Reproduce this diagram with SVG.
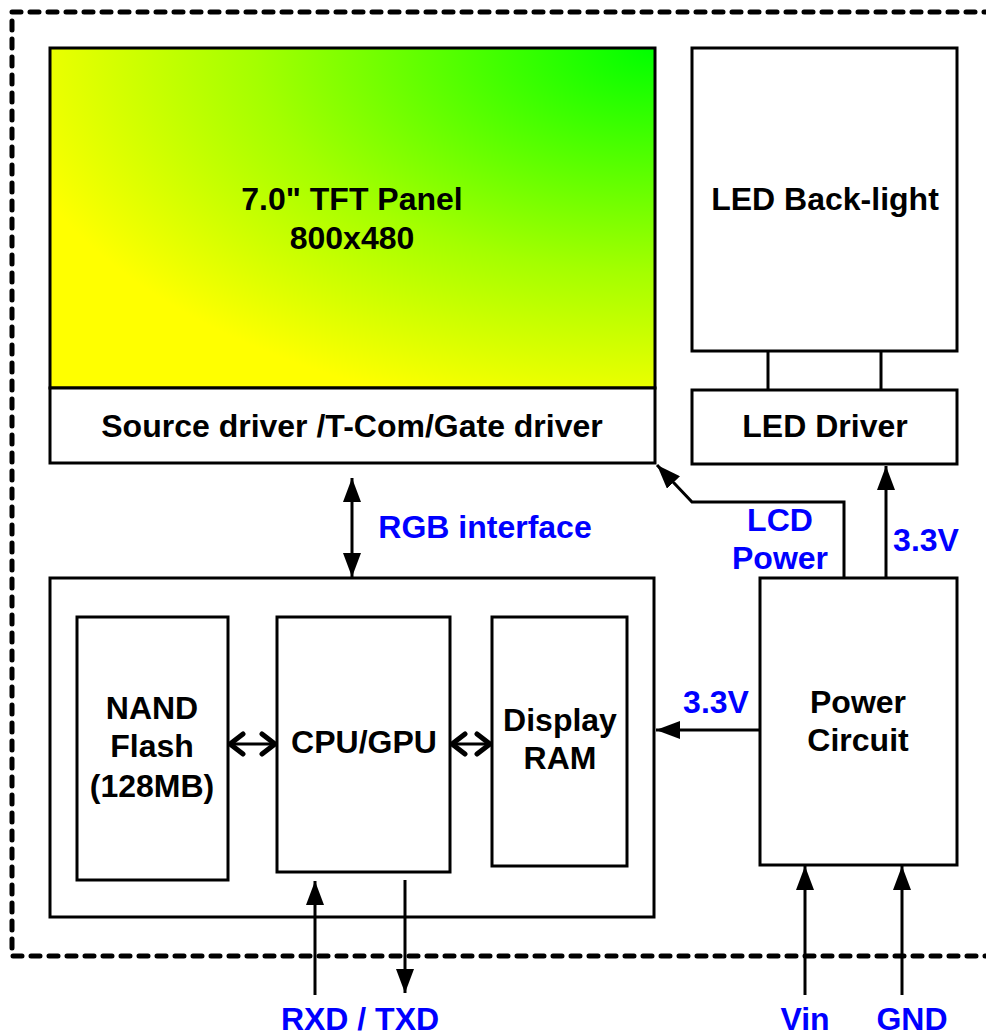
<svg xmlns="http://www.w3.org/2000/svg" width="986" height="1035" viewBox="0 0 986 1035">
<defs>
<radialGradient id="tft" cx="1" cy="0" r="1.1" fx="1" fy="0">
<stop offset="0" stop-color="#00ff00"/>
<stop offset="0.6" stop-color="#a4ff00"/>
<stop offset="1" stop-color="#ffff00"/>
</radialGradient>
<marker id="ah" viewBox="0 0 24 18" refX="24" refY="9" markerWidth="24" markerHeight="18" markerUnits="userSpaceOnUse" orient="auto-start-reverse">
<path d="M0,0 L24,9 L0,18 Z" fill="#000"/>
</marker>
<marker id="oh" viewBox="0 0 20 26" refX="17" refY="13" markerWidth="20" markerHeight="26" markerUnits="userSpaceOnUse" orient="auto-start-reverse">
<path d="M3,3 L16,13 L3,23" fill="none" stroke="#000" stroke-width="5" stroke-linecap="round" stroke-linejoin="round"/>
</marker>
<style>
.box{fill:#fff;stroke:#000;stroke-width:3}
.ln{fill:none;stroke:#000;stroke-width:3}
.t{font-family:"Liberation Sans",Arial,sans-serif;font-weight:bold;font-size:32px;fill:#000;text-anchor:middle}
.b{font-family:"Liberation Sans",Arial,sans-serif;font-weight:bold;font-size:32px;fill:#0000ff;text-anchor:middle}
</style>
</defs>
<rect x="12" y="12" width="1000" height="944" fill="none" stroke="#000" stroke-width="5" stroke-dasharray="9 9" stroke-linecap="round"/>
<g id="tft-panel">
<rect x="50" y="48" width="605" height="340" fill="url(#tft)" stroke="#000" stroke-width="3"/>
<text class="t" x="352" y="210">7.0" TFT Panel</text>
<text class="t" x="352" y="249">800x480</text>
</g>
<g id="source-driver">
<rect class="box" x="50" y="388" width="605" height="75"/>
<text class="t" x="352" y="437">Source driver /T-Com/Gate driver</text>
</g>
<g id="led-backlight">
<rect class="box" x="692" y="48" width="265" height="303"/>
<text class="t" x="825" y="210">LED Back-light</text>
</g>
<g id="led-driver">
<rect class="box" x="692" y="390" width="265" height="74"/>
<text class="t" x="825" y="437">LED Driver</text>
</g>
<g id="main-board">
<rect class="box" x="50" y="578" width="604" height="339"/>
</g>
<g id="nand">
<rect class="box" x="77" y="617" width="151" height="263"/>
<text class="t" x="152" y="719">NAND</text>
<text class="t" x="152" y="757">Flash</text>
<text class="t" x="152" y="797">(128MB)</text>
</g>
<g id="cpu">
<rect class="box" x="277" y="617" width="173" height="255"/>
<text class="t" x="364" y="753">CPU/GPU</text>
</g>
<g id="ram">
<rect class="box" x="492" y="617" width="135" height="249"/>
<text class="t" x="560" y="731">Display</text>
<text class="t" x="560" y="769">RAM</text>
</g>
<g id="power">
<rect class="box" x="760" y="578" width="197" height="287"/>
<text class="t" x="858" y="713">Power</text>
<text class="t" x="858" y="751">Circuit</text>
</g>
<g id="connectors">
<line class="ln" x1="768" y1="351" x2="768" y2="390"/>
<line class="ln" x1="881" y1="351" x2="881" y2="390"/>
<line class="ln" x1="352" y1="478" x2="352" y2="577" marker-start="url(#ah)" marker-end="url(#ah)"/>
<polyline class="ln" points="844,578 844,502 692,502 657,465" marker-end="url(#ah)"/>
<line class="ln" x1="886" y1="578" x2="886" y2="466" marker-end="url(#ah)"/>
<line class="ln" x1="760" y1="730" x2="656" y2="730" marker-end="url(#ah)"/>
<line class="ln" x1="229" y1="744" x2="276" y2="744" marker-start="url(#oh)" marker-end="url(#oh)"/>
<line class="ln" x1="451" y1="744" x2="491" y2="744" marker-start="url(#oh)" marker-end="url(#oh)"/>
<line class="ln" x1="315" y1="995" x2="315" y2="881" marker-end="url(#ah)"/>
<line class="ln" x1="405" y1="880" x2="405" y2="993" marker-end="url(#ah)"/>
<line class="ln" x1="805" y1="995" x2="805" y2="866" marker-end="url(#ah)"/>
<line class="ln" x1="902" y1="995" x2="902" y2="866" marker-end="url(#ah)"/>
<text class="b" x="485" y="538">RGB interface</text>
<text class="b" x="780" y="531">LCD</text>
<text class="b" x="780" y="569">Power</text>
<text class="b" x="926" y="551">3.3V</text>
<text class="b" x="716" y="713">3.3V</text>
<text class="b" x="360" y="1030">RXD / TXD</text>
<text class="b" x="805" y="1030">Vin</text>
<text class="b" x="912" y="1030">GND</text>
</g>
</svg>
